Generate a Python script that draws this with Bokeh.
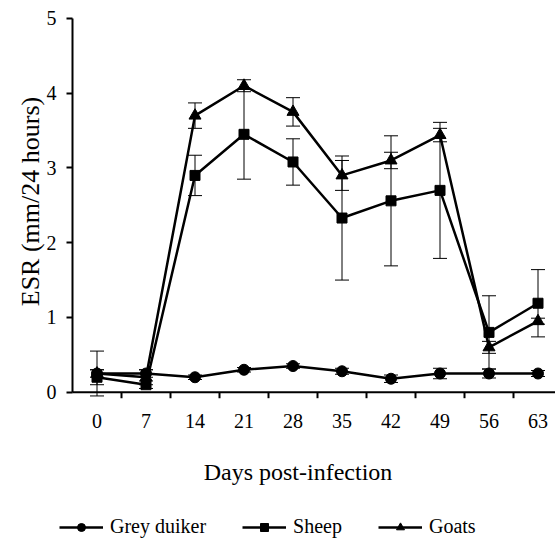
import math
from bokeh.plotting import figure
from bokeh.models import (ColumnDataSource, Range1d, FixedTicker, Whisker, TeeHead,
                          Legend, LegendItem, Label)
from bokeh.embed import file_html
from bokeh.resources import INLINE

days = ["0", "7", "14", "21", "28", "35", "42", "49", "56", "63"]
duiker = [0.25, 0.25, 0.20, 0.30, 0.35, 0.28, 0.18, 0.25, 0.25, 0.25]
duiker_err = [0.05, 0.05, 0.03, 0.03, 0.03, 0.04, 0.05, 0.07, 0.06, 0.04]
sheep = [0.20, 0.10, 2.90, 3.45, 3.08, 2.33, 2.56, 2.70, 0.80, 1.19]
sheep_err = [0.10, 0.05, 0.27, 0.60, 0.31, 0.83, 0.87, 0.91, 0.49, 0.45]
goats = [0.25, 0.20, 3.70, 4.10, 3.75, 2.90, 3.10, 3.44, 0.60, 0.95]
goats_err = [0.30, 0.10, 0.17, 0.08, 0.19, 0.20, 0.11, 0.09, 0.08, 0.04]
y_ticks = [0, 1, 2, 3, 4, 5]

FONT = "Liberation Serif"
idx = list(range(len(days)))

# whole canvas is the frame; the axes sit at fixed data locations
PX_X = 49.0      # pixels per category
PX_Y = 74.75     # pixels per ESR unit
X0, Y0 = 72.0, 391.7   # pixel position of (x=-0.5, y=0)
W, H = 555, 540
x_start = -0.5 - X0 / PX_X
x_end = -0.5 + (W - X0) / PX_X
y_end = Y0 / PX_Y
y_start = -(H - Y0) / PX_Y
tick_len = 6.0 / PX_Y

p = figure(width=W, height=H, output_backend="svg", toolbar_location=None,
           x_range=Range1d(x_start, x_end), y_range=Range1d(y_start, y_end),
           min_border_left=0, min_border_right=0, min_border_top=0, min_border_bottom=0)
p.outline_line_color = None
p.xgrid.visible = False
p.ygrid.visible = False

# x axis: category labels at y = 0
p.xaxis.fixed_location = 0
p.xaxis.ticker = FixedTicker(ticks=idx)
p.xaxis.major_label_overrides = {i: d for i, d in zip(idx, days)}
p.xaxis.major_tick_out = 0
p.xaxis.major_tick_in = 0
p.xaxis.minor_tick_out = 0
p.xaxis.minor_tick_in = 0
p.xaxis.axis_line_color = None
p.xaxis.major_label_standoff = 22
p.xaxis.major_label_text_font = FONT
p.xaxis.major_label_text_font_size = "20px"
p.xaxis.major_label_text_color = "black"

# y axis at x = -0.5
p.yaxis.fixed_location = -0.5
p.yaxis.ticker = FixedTicker(ticks=y_ticks)
p.yaxis.bounds = (0, 5)
p.yaxis.major_tick_out = 6
p.yaxis.major_tick_in = 0
p.yaxis.major_tick_line_width = 2
p.yaxis.major_tick_line_color = "black"
p.yaxis.minor_tick_out = 0
p.yaxis.minor_tick_in = 0
p.yaxis.axis_line_width = 2
p.yaxis.axis_line_color = "black"
p.yaxis.major_label_standoff = 10
p.yaxis.major_label_text_font = FONT
p.yaxis.major_label_text_font_size = "20px"
p.yaxis.major_label_text_color = "black"

# category axis line at y = 0 with ticks between categories
bounds = [i + 0.5 for i in idx]
p.segment(x0=[-0.5], y0=[0], x1=[x_end], y1=[0], line_color="black", line_width=2)
p.segment(x0=bounds, y0=[0] * len(bounds), x1=bounds, y1=[-tick_len] * len(bounds),
          line_color="black", line_width=2)

series = [
    ("Grey duiker", duiker, duiker_err, "circle", 11),
    ("Sheep", sheep, sheep_err, "square", 10),
    ("Goats", goats, goats_err, "triangle", 12),
]

items = []
for name, vals, errs, marker, size in series:
    src = ColumnDataSource(dict(x=idx, y=vals,
                                upper=[v + e for v, e in zip(vals, errs)],
                                lower=[v - e for v, e in zip(vals, errs)]))
    w = Whisker(source=src, base="x", upper="upper", lower="lower",
                line_color="black", line_width=1,
                upper_head=TeeHead(size=14, line_color="black", line_width=1),
                lower_head=TeeHead(size=14, line_color="black", line_width=1))
    p.add_layout(w)
    ln = p.line("x", "y", source=src, line_color="black", line_width=2.5)
    sc = p.scatter("x", "y", source=src, marker=marker, size=size,
                   fill_color="black", line_color="black")
    items.append(LegendItem(label=name, renderers=[ln, sc]))

p.add_layout(Label(x=297.5, y=H - 471.7, x_units="screen", y_units="screen",
                   text="Days post-infection", text_align="center",
                   text_baseline="alphabetic", text_font=FONT,
                   text_font_size="24px", text_color="black"))
p.add_layout(Label(x=30, y=H - 201, x_units="screen", y_units="screen",
                   text="ESR (mm/24 hours)", angle=math.pi / 2,
                   text_align="center", text_baseline="middle", text_font=FONT,
                   text_font_size="26px", text_color="black"))

legend = Legend(items=items, orientation="horizontal", location=(59, 2),
                padding=0, margin=0, spacing=36, glyph_width=44, glyph_height=20,
                label_height=20, label_standoff=7,
                label_text_font=FONT, label_text_font_size="20px",
                label_text_color="black",
                border_line_color=None, background_fill_alpha=0)
p.add_layout(legend, "center")

open("out.html", "w").write(file_html(p, INLINE))
